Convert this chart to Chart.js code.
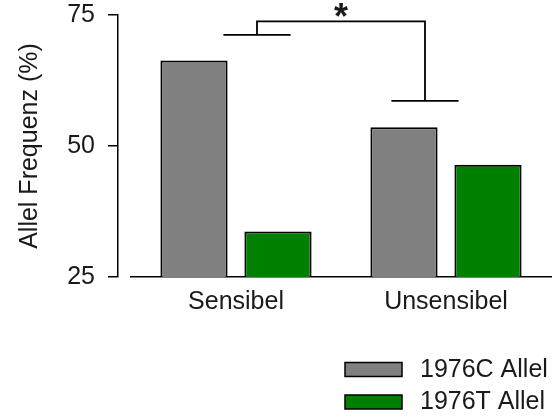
<!DOCTYPE html>
<html>
<head>
<meta charset="utf-8">
<script src="https://cdn.jsdelivr.net/npm/chart.js@4.4.1/dist/chart.umd.min.js"></script>
<style>
  html, body { margin: 0; padding: 0; background: #fff; }
  #wrap { width: 553px; height: 419px; position: relative; }
</style>
</head>
<body>
<div id="wrap"><canvas id="mychart"></canvas></div>
<script>
// allele frequency (%) per group
var groups = ['Sensibel', 'Unsensibel'];
var alleleNames = ['1976C Allel', '1976T Allel'];
var alleleC = [66.3, 53.6];
var alleleT = [33.7, 46.4];
var alleleColors = ['#808080', '#008000'];
var yTicks = [25, 50, 75];

// significance bracket heights (%)
var sigLeft = 71.2, sigTop = 73.8, sigRight = 58.6, sigHalf = 0.2;
var sigMark = '*';

var family = "'Liberation Sans', Arial, sans-serif";
var textColor = '#1a1a1a';

// bracket, star and legend block, all placed through the chart scales
var extras = {
  id: 'extras',
  afterDraw: function(chart){
    var ctx = chart.ctx;
    var xb = chart.scales.xb, y = chart.scales.y;
    var segs = [
      [[0 - sigHalf, sigLeft], [0 + sigHalf, sigLeft]],
      [[0, sigLeft], [0, sigTop], [1, sigTop], [1, sigRight]],
      [[1 - sigHalf, sigRight], [1 + sigHalf, sigRight]]
    ];
    ctx.save();
    ctx.strokeStyle = '#000';
    ctx.lineWidth = 1.8;
    segs.forEach(function(seg){
      ctx.beginPath();
      seg.forEach(function(p, k){
        var px = xb.getPixelForValue(p[0]), py = y.getPixelForValue(p[1]);
        if (k === 0) ctx.moveTo(px, py); else ctx.lineTo(px, py);
      });
      ctx.stroke();
    });

    ctx.fillStyle = textColor;
    ctx.textAlign = 'center';
    ctx.textBaseline = 'alphabetic';
    ctx.font = 'bold 36px ' + family;
    ctx.fillText(sigMark, xb.getPixelForValue(0.5), y.getPixelForValue(sigTop) + 8);

    ctx.textAlign = 'left';
    ctx.textBaseline = 'middle';
    ctx.font = '25px ' + family;
    chart.data.datasets.forEach(function(ds, i){
      var top = 362.5 + i * 32.5;
      ctx.fillStyle = ds.backgroundColor;
      ctx.fillRect(345, top, 57, 14);
      ctx.lineWidth = 1.5;
      ctx.strokeStyle = '#000';
      ctx.strokeRect(345, top, 57, 14);
      ctx.fillStyle = textColor;
      ctx.fillText(ds.label, 420, top + 7.5);
    });
    ctx.restore();
  }
};

var ctx = document.getElementById('mychart');
var chart = new Chart(ctx, {
  type: 'bar',
  data: {
    labels: groups,
    datasets: [{
      label: alleleNames[0],
      data: alleleC,
      backgroundColor: alleleColors[0],
      borderColor: '#000',
      borderWidth: 2,
      barPercentage: 0.8
    }, {
      label: alleleNames[1],
      data: alleleT,
      backgroundColor: alleleColors[1],
      borderColor: '#000',
      borderWidth: 2,
      barPercentage: 0.8
    }]
  },
  options: {
    responsive: true,
    maintainAspectRatio: false,
    animation: false,
    layout: { padding: { top: 15, right: 2, bottom: 102, left: 0 } },
    plugins: {
      legend: { display: false },
      tooltip: { enabled: false }
    },
    scales: {
      x: {
        grid: { display: false, drawTicks: false },
        border: { display: true, color: '#000', width: 1.5 },
        ticks: { padding: 10, color: textColor, font: { size: 25, family: family } },
        afterFit: function(s){ s.height = 40; }
      },
      xb: { type: 'linear', min: -0.5, max: 1.5, display: false },
      y: {
        min: 25, max: 75, weight: 1,
        afterBuildTicks: function(s){ s.ticks = yTicks.map(function(v){ return {value: v}; }); },
        afterFit: function(s){ s.width = 118; s.paddingTop = 0; s.paddingBottom = 0; },
        grid: { drawOnChartArea: false, drawTicks: true, tickLength: 10, color: '#000', lineWidth: 1.5 },
        border: { display: true, color: '#000', width: 1.5 },
        ticks: { padding: 13, color: textColor, font: { size: 25, family: family } },
        title: { display: true, text: 'Allel Frequenz (%)', color: textColor,
                 font: { size: 25, family: family }, padding: { top: 15, bottom: 0 } }
      },
      gap: {
        type: 'linear', position: 'left', weight: 0,
        grid: { display: false }, border: { display: false }, ticks: { display: false },
        afterFit: function(s){ s.width = 13; }
      }
    }
  },
  plugins: [extras]
});
</script>
</body>
</html>
